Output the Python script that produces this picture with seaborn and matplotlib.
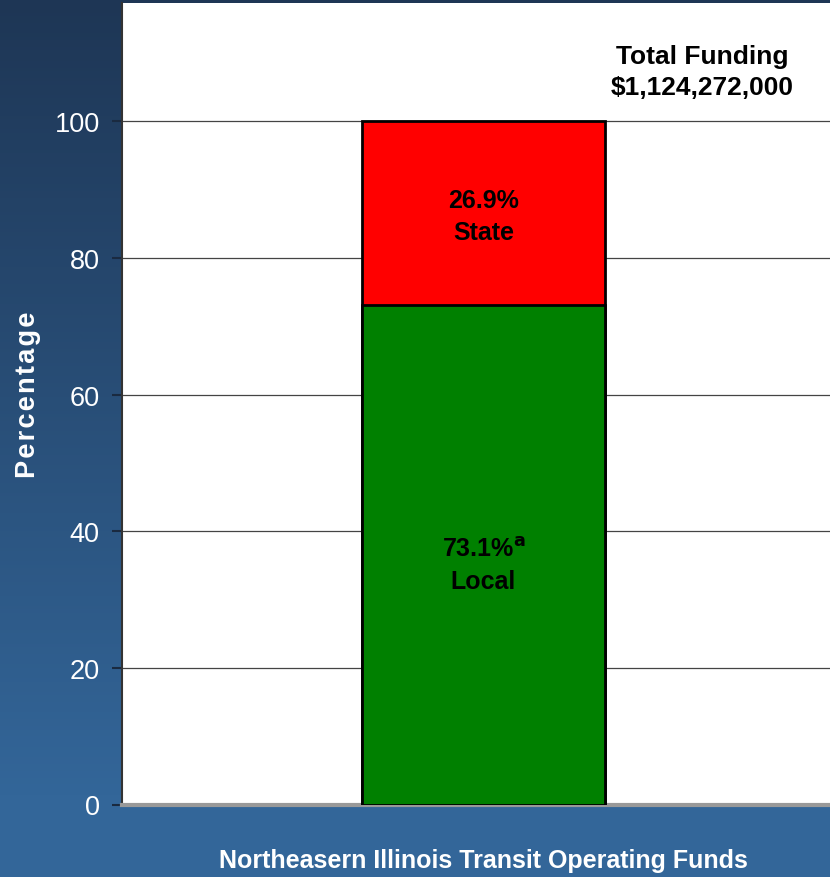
import numpy as np
import pandas as pd
import matplotlib
matplotlib.use("Agg")
import matplotlib.pyplot as plt
import seaborn as sns

# ---- data ----
category = ["Northeasern Illinois Transit Operating Funds"]
local_pct = [73.1]
state_pct = [26.9]
segment_names = ["Local", "State"]
y_ticks = [0, 20, 40, 60, 80, 100]
total_funding = "$1,124,272,000"

sns.set_theme(style="white")
plt.rcParams["font.family"] = ["Liberation Sans", "DejaVu Sans"]

fig = plt.figure(figsize=(8.3, 8.78), dpi=100)

# gradient background
bg = fig.add_axes([0, 0, 1, 1], zorder=0)
top = np.array([0x1e, 0x36, 0x55]) / 255
bot = np.array([0x33, 0x66, 0x99]) / 255
t = np.linspace(0, 1, 256)[:, None]
t = np.clip(t * 1.1, 0, 1)
grad = (top[None, :] * (1 - t) + bot[None, :] * t)[:, None, :]
bg.imshow(grad, aspect="auto", extent=[0, 1, 0, 1])
bg.axis("off")

ax = fig.add_axes([122 / 830, 1 - 805.5 / 878, 1 - 122 / 830, (805.5 - 4) / 878], zorder=1)
ax.set_facecolor("white")

df = pd.DataFrame({"cat": category, "local": local_pct, "state": state_pct})
df["total"] = df["local"] + df["state"]

sns.barplot(data=df, x="cat", y="total", color="#ff0000", edgecolor="black",
            linewidth=2, width=0.8, saturation=1, ax=ax, zorder=3)
sns.barplot(data=df, x="cat", y="local", color="#008000", edgecolor="black",
            linewidth=2, width=0.8, saturation=1, ax=ax, zorder=4)

ax.set_xlim(-1.19, 1.141)
ax.set_ylim(0, 117.3)
ax.set_yticks(y_ticks)
ax.set_yticklabels([str(v) for v in y_ticks], color="white", fontsize=19.5)
ax.set_xticks([])
ax.set_xlabel("")
ax.set_ylabel("")
ax.yaxis.grid(True, color="#444444", linewidth=0.9, zorder=0)
ax.set_axisbelow(True)
ax.tick_params(axis="y", direction="out", length=7, width=1.5, color="#1a2a40", pad=9, left=True)
for s in ["top", "right"]:
    ax.spines[s].set_visible(False)
ax.spines["left"].set_color("#333333")
ax.spines["left"].set_linewidth(1.5)
ax.spines["bottom"].set_color("#999999")
ax.spines["bottom"].set_linewidth(3)

# segment labels
l = local_pct[0]
s = state_pct[0]
ax.text(0, l + s / 2 - 0.4, f"{s}%\n{segment_names[1]}", ha="center", va="center",
        fontsize=18, fontweight="bold", color="black", linespacing=1.45, zorder=6)
ax.text(0, l / 2 - 1.5, f"{l}%$^{{\\mathbf{{a}}}}$\n{segment_names[0]}", ha="center", va="center",
        fontsize=18, fontweight="bold", color="black", linespacing=1.45, zorder=6)

ax.text(0.72, 107.3, f"Total Funding\n{total_funding}", ha="center", va="center",
        fontsize=19, fontweight="bold", color="black", linespacing=1.35)

fig.text(28 / 830, 1 - 395 / 878, "\u200a".join("Percentage"),
         rotation=90, ha="center", va="center", color="white",
         fontsize=19.5, fontweight="bold")

fig.text(483 / 830, 1 - 861 / 878, category[0], ha="center", va="center",
         color="white", fontsize=18, fontweight="bold")

fig.savefig("out.png", dpi=100)
